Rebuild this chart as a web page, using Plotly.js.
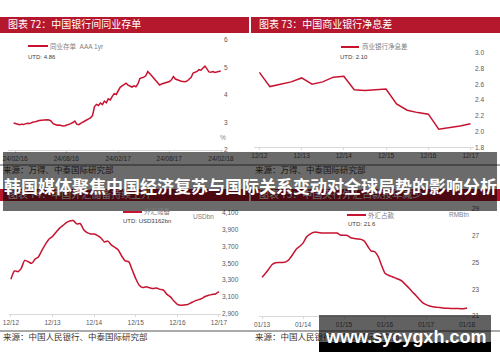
<!DOCTYPE html>
<html>
<head>
<meta charset="utf-8">
<script src="https://cdn.plot.ly/plotly-3.0.1.min.js"></script>
<style>html,body{margin:0;padding:0;background:#fff;}#chart{width:500px;height:362px;}</style>
</head>
<body>
<div id="chart"></div>
<script>
// ---------- DATA ----------
// Panel 72: interbank NCD AAA 1yr (%), weekly
const ncdDates = [
'2016-02-19','2016-02-26','2016-03-04','2016-03-11','2016-03-18','2016-03-25','2016-04-01','2016-04-08','2016-04-15','2016-04-22','2016-04-29','2016-05-06','2016-05-13','2016-05-20','2016-05-27','2016-06-03','2016-06-10','2016-06-17','2016-06-24','2016-07-01','2016-07-08','2016-07-15','2016-07-22','2016-07-29','2016-08-05','2016-08-12','2016-08-19','2016-08-26','2016-09-02','2016-09-09','2016-09-16','2016-09-23','2016-09-30','2016-10-07','2016-10-14','2016-10-21','2016-10-28','2016-11-04','2016-11-11','2016-11-18','2016-11-25','2016-12-02','2016-12-09','2016-12-16','2016-12-23','2016-12-30',
'2017-01-06','2017-01-13','2017-01-20','2017-01-27','2017-02-03','2017-02-10','2017-02-17','2017-02-24','2017-03-03','2017-03-10','2017-03-17','2017-03-24','2017-03-31','2017-04-07','2017-04-14','2017-04-21','2017-04-28','2017-05-05','2017-05-12','2017-05-19','2017-05-26','2017-06-02','2017-06-09','2017-06-16','2017-06-23','2017-06-30','2017-07-07','2017-07-14','2017-07-21','2017-07-28','2017-08-04','2017-08-11','2017-08-18','2017-08-25','2017-09-01','2017-09-08','2017-09-15','2017-09-22','2017-09-29','2017-10-06','2017-10-13','2017-10-20','2017-10-27','2017-11-03','2017-11-10','2017-11-17','2017-11-24','2017-12-01','2017-12-08','2017-12-15','2017-12-22','2017-12-29',
'2018-01-05','2018-01-12','2018-01-19','2018-01-26','2018-02-02','2018-02-09','2018-02-16','2018-02-23'];
const ncdValues = [
2.98,2.96,2.95,2.92,2.94,2.93,2.95,2.97,2.96,3.00,3.02,3.03,3.06,3.07,3.08,3.09,3.10,3.10,3.09,3.05,2.96,2.92,2.90,2.91,2.88,2.87,2.88,2.90,2.93,2.96,3.00,3.05,2.94,2.92,2.97,3.02,3.05,3.09,3.13,3.17,3.26,3.58,3.66,3.62,3.71,3.65,
3.78,3.72,3.86,3.82,3.95,4.05,4.02,4.14,4.28,4.33,4.39,4.43,4.36,4.31,4.29,4.33,4.30,4.40,4.60,4.63,4.65,4.70,4.85,4.78,4.70,4.62,4.50,4.42,4.36,4.40,4.43,4.45,4.47,4.49,4.55,4.67,4.58,4.55,4.52,4.50,4.49,4.48,4.51,4.56,4.64,4.80,4.82,4.86,4.92,4.90,4.98,5.05,
4.95,4.84,4.83,4.85,4.82,4.84,4.85,4.87];
const ncdTickVals = ['2016-02-24','2016-08-24','2017-02-24','2017-08-24','2018-02-24'];
const ncdTickText = ['24/02/16','24/08/16','24/02/17','24/08/17','24/02/18'];

// Panel 73: commercial bank net interest margin (%), quarterly
const nimQuarters = ['2012-12','2013-03','2013-06','2013-09','2013-12','2014-03','2014-06','2014-09','2014-12','2015-03','2015-06','2015-09','2015-12','2016-03','2016-06','2016-09','2016-12','2017-03','2017-06','2017-09','2017-12'];
const nimValues = [2.75,2.57,2.60,2.63,2.68,2.60,2.63,2.69,2.70,2.53,2.52,2.53,2.54,2.35,2.27,2.24,2.22,2.03,2.05,2.07,2.10];
const decTickVals = ['2012-12','2013-12','2014-12','2015-12','2016-12','2017-12'];
const decTickText = ['12/12','12/13','12/14','12/15','12/16','12/17'];

// Panel 74: FX reserves (USD bn), monthly
const fxResMonths = ['2012-12',
'2013-01','2013-02','2013-03','2013-04','2013-05','2013-06','2013-07','2013-08','2013-09','2013-10','2013-11','2013-12',
'2014-01','2014-02','2014-03','2014-04','2014-05','2014-06','2014-07','2014-08','2014-09','2014-10','2014-11','2014-12',
'2015-01','2015-02','2015-03','2015-04','2015-05','2015-06','2015-07','2015-08','2015-09','2015-10','2015-11','2015-12',
'2016-01','2016-02','2016-03','2016-04','2016-05','2016-06','2016-07','2016-08','2016-09','2016-10','2016-11','2016-12',
'2017-01','2017-02','2017-03','2017-04','2017-05','2017-06','2017-07','2017-08','2017-09','2017-10','2017-11','2017-12'];
const fxResValues = [3310,3410,3400,3440,3535,3520,3500,3550,3580,3660,3730,3790,3821,3870,3920,3950,3985,4005,4010,3970,3975,3900,3865,3850,3850,3830,3800,3755,3765,3720,3690,3660,3585,3530,3520,3420,3320,3240,3212,3220,3210,3200,3205,3190,3180,3130,3100,3050,3011,3000,3005,3010,3030,3050,3065,3080,3105,3120,3130,3135,3162];

// Panel 75: PBoC FX position (RMB tn), monthly
const fxPosMonths = [
'2013-01','2013-02','2013-03','2013-04','2013-05','2013-06','2013-07','2013-08','2013-09','2013-10','2013-11','2013-12',
'2014-01','2014-02','2014-03','2014-04','2014-05','2014-06','2014-07','2014-08','2014-09','2014-10','2014-11','2014-12',
'2015-01','2015-02','2015-03','2015-04','2015-05','2015-06','2015-07','2015-08','2015-09','2015-10','2015-11','2015-12',
'2016-01','2016-02','2016-03','2016-04','2016-05','2016-06','2016-07','2016-08','2016-09','2016-10','2016-11','2016-12',
'2017-01','2017-02','2017-03','2017-04','2017-05','2017-06','2017-07','2017-08','2017-09','2017-10','2017-11','2017-12','2018-01'];
const fxPosValues = [23.9,24.2,24.5,24.85,24.98,25.0,25.0,25.05,25.25,25.6,26.0,26.2,26.45,26.9,27.1,27.25,27.27,27.22,27.2,27.2,27.2,27.2,27.2,27.05,27.03,27.02,26.85,26.8,26.76,26.73,26.6,26.2,25.85,25.82,25.45,24.8,24.2,24.05,23.95,23.85,23.75,23.6,23.35,23.1,22.8,22.55,22.25,22.0,21.85,21.75,21.7,21.66,21.63,21.6,21.58,21.57,21.56,21.56,21.55,21.55,21.6];
const janTickVals = ['2013-01','2014-01','2015-01','2016-01','2017-01','2018-01'];
const janTickText = ['01/13','01/14','01/15','01/16','01/17','01/18'];

// ---------- STYLE / LAYOUT ----------
const W = 500, H = 362;
const px = v => v / W;
const py = v => 1 - v / H;
const RED = '#c7132f', BAR = '#b5172d';
const LATIN = 'Liberation Sans, Noto Sans CJK SC, sans-serif';
const CJK = 'Noto Sans CJK SC, sans-serif';
const tickFont = {family: LATIN, size: 6.5, color: '#595959'};

function xAx(d0, d1, range, tv, tt, anchor) {
  return {domain: [px(d0), px(d1)], range: range, type: 'date', anchor: anchor,
    tickvals: tv, ticktext: tt, tickfont: tickFont, showgrid: false, zeroline: false,
    showline: true, linecolor: '#d9d9d9', linewidth: 1, ticks: 'outside', ticklen: 2, tickcolor: '#d9d9d9', fixedrange: true};
}
function yAx(top, bottom, range, dtick, fmt, anchor) {
  return {domain: [py(bottom), py(top)], range: range, dtick: dtick, tick0: range[0], tickformat: fmt, anchor: anchor,
    side: 'right', tickfont: tickFont, showgrid: false, zeroline: false, showline: false, ticks: '', fixedrange: true};
}

const traces = [
  {x: ncdDates, y: ncdValues, xaxis: 'x', yaxis: 'y', type: 'scatter', mode: 'lines', line: {color: RED, width: 1.5}},
  {x: nimQuarters, y: nimValues, xaxis: 'x2', yaxis: 'y2', type: 'scatter', mode: 'lines', line: {color: RED, width: 1.5}},
  {x: fxResMonths, y: fxResValues, xaxis: 'x3', yaxis: 'y3', type: 'scatter', mode: 'lines', line: {color: RED, width: 1.5, shape: 'spline', smoothing: 0.6}},
  {x: fxPosMonths, y: fxPosValues, xaxis: 'x4', yaxis: 'y4', type: 'scatter', mode: 'lines', line: {color: RED, width: 1.5, shape: 'spline', smoothing: 0.6}}
];

function rect(x0, x1, y0, y1, fill, label) {
  const s = {type: 'rect', xref: 'paper', yref: 'paper', x0: px(x0), x1: px(x1), y0: py(y1), y1: py(y0),
    fillcolor: fill, line: {width: 0}, layer: 'above'};
  if (label) s.label = label;
  return s;
}
function hline(x0, x1, y, color, w) {
  return {type: 'line', xref: 'paper', yref: 'paper', x0: px(x0), x1: px(x1), y0: py(y), y1: py(y), line: {color: color, width: w}, layer: 'above'};
}
function headLabel(t) { return {text: t, font: {family: CJK, size: 10, color: '#ffffff'}, textposition: 'middle left', padding: 5}; }
function srcLabel(t) { return {text: t, font: {family: CJK, size: 8.5, color: '#333333'}, textposition: 'middle left', padding: 0}; }

const shapes = [
  rect(0, 249, 17, 33, BAR, headLabel('图表 72：中国银行间同业存单')),
  rect(251, 500, 17, 33, BAR, headLabel('图表 73：中国商业银行净息差')),
  rect(0, 249, 189, 201, BAR, headLabel('图表 74：中国外汇储备持续上升')),
  rect(251, 500, 189, 201, BAR, headLabel('图表 75：中国央行外汇占款按年减少')),
  hline(0, 500, 165, '#555555', 1),
  rect(0, 249, 166, 175, 'rgba(0,0,0,0)', srcLabel('来源：万得、中泰国际研究部')),
  rect(252, 500, 166, 175, 'rgba(0,0,0,0)', srcLabel('来源：万得、中泰国际研究部')),
  hline(0, 500, 331, '#555555', 1),
  rect(0, 249, 333, 342, 'rgba(0,0,0,0)', srcLabel('来源：中国人民银行、中泰国际研究部')),
  rect(252, 500, 333, 342, 'rgba(0,0,0,0)', srcLabel('来源：中国人民银行、中泰国际研究部')),
  hline(28, 48, 46, RED, 2),
  hline(341, 359, 47, RED, 2),
  hline(123, 142, 212, RED, 2),
  hline(347, 366, 215, RED, 2),
  rect(3, 497, 152, 211, 'rgba(0,0,0,0.58)'),
  rect(319, 491, 315, 342, 'rgba(0,0,0,0.62)'),
  rect(319, 491, 342, 352, '#000000')
];

function ann(x, y, text, size, color, anchor, family, weight) {
  return {xref: 'paper', yref: 'paper', x: px(x), y: py(y), text: text, showarrow: false,
    xanchor: anchor || 'left', yanchor: 'middle', borderpad: 0,
    font: {family: family || LATIN, size: size, color: color, weight: weight || 400}};
}
const annotations = [
  ann(49, 46, '同业存单  AAA 1yr', 6.5, '#808080'),
  ann(361, 47, '商业银行净息差', 6.5, '#808080'),
  ann(143, 212, '外汇储备', 6.5, '#808080'),
  ann(367, 215, '外汇占款', 6.5, '#808080'),
  ann(27, 57, 'UTD: 4.86', 6, '#404040'),
  ann(339, 57, 'UTD: 2.10', 6, '#404040'),
  ann(122, 221, 'UTD: USD3162bn', 6, '#404040'),
  ann(347, 224, 'UTD: 21.6', 6, '#404040'),
  ann(219, 137, '%', 6.5, '#808080'),
  ann(192, 216, 'USDbn', 6.5, '#808080'),
  ann(448, 214, 'RMBtn', 6.5, '#808080'),
  ann(250, 185, '韩国媒体聚焦中国经济复苏与国际关系变动对全球局势的影响分析', 17, '#ffffff', 'center', CJK, 700),
  ann(405, 337, 'www.sycygxh.com', 18, '#ffffff', 'center', LATIN, 700)
];

const layout = {
  width: W, height: H, margin: {l: 0, r: 0, t: 0, b: 0},
  paper_bgcolor: '#ffffff', plot_bgcolor: 'rgba(0,0,0,0)', showlegend: false,
  font: {family: LATIN, size: 6.5, color: '#595959'},
  xaxis: xAx(8, 223, ['2016-01-30', '2018-03-03'], ncdTickVals, ncdTickText, 'y'),
  yaxis: yAx(40, 150, [2, 6], 1, 'd', 'x'),
  xaxis2: xAx(254, 474, ['2012-10-15', '2017-12-31'], decTickVals, decTickText, 'y2'),
  yaxis2: yAx(52.7, 147.3, [1.8, 3.0], 0.2, '.1f', 'x2'),
  xaxis3: xAx(9, 221, ['2012-11-14', '2017-12-19'], decTickVals, decTickText, 'y3'),
  yaxis3: yAx(213, 313.7, [2900, 4100], 200, ',d', 'x3'),
  xaxis4: xAx(259, 471, ['2012-12-05', '2018-02-05'], janTickVals, janTickText, 'y4'),
  yaxis4: yAx(209, 316, [21, 29], 2, 'd', 'x4'),
  shapes: shapes,
  annotations: annotations
};

Plotly.newPlot('chart', traces, layout, {staticPlot: true, displayModeBar: false});
</script>
</body>
</html>
